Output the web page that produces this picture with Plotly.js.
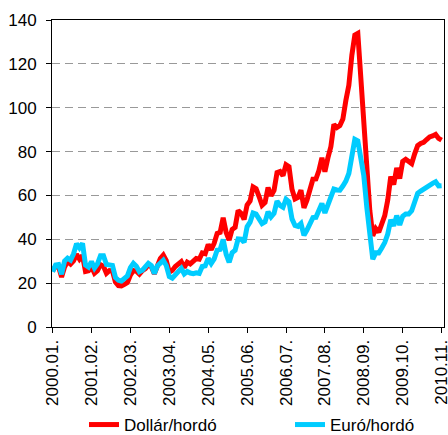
<!DOCTYPE html>
<html>
<head>
<meta charset="utf-8">
<script src="https://cdn.plot.ly/plotly-3.0.1.min.js"></script>
<style>html,body{margin:0;padding:0;background:#fff;}#chart{width:448px;height:435px;}</style>
</head>
<body>
<div id="chart"></div>
<script>
// Monthly oil price, 2000.01 – 2010.11
var years = [2000, 2001, 2002, 2003, 2004, 2005, 2006, 2007, 2008, 2009, 2010];
var lastMonth2010 = 11;

var dollarPerBarrel = [
  25.5, 27.8, 27.5, 22.8, 27.3, 29.8, 28.7, 30.2, 33.1, 30.9, 32.6, 25.3,
  25.6, 27.5, 24.5, 25.7, 28.4, 27.7, 24.5, 25.7, 25.6, 20.5, 18.9, 18.7,
  19.4, 20.3, 23.7, 25.7, 25.4, 24.1, 25.7, 26.6, 28.4, 27.5, 24.3, 28.3,
  31.2, 32.8, 30.3, 25.0, 25.8, 27.6, 28.4, 29.8, 27.1, 29.6, 28.8, 29.8,
  31.2, 30.9, 33.8, 33.4, 37.6, 35.2, 38.2, 42.7, 43.2, 49.8, 43.1, 39.6,
  44.5, 45.5, 53.1, 51.9, 49.0, 55.6, 57.5, 63.9, 63.1, 59.5, 55.5, 56.8,
  63.6, 59.9, 62.3, 70.4, 70.9, 69.0, 74.0, 73.1, 62.8, 58.4, 59.1, 62.4,
  54.3, 57.8, 62.1, 67.4, 67.5, 71.3, 77.2, 70.8, 77.1, 82.3, 92.4, 91.0,
  91.9, 94.8, 103.3, 110.2, 123.9, 133.1, 133.9, 113.9, 99.1, 72.7, 53.2, 41.6,
  44.9, 43.2, 47.0, 50.8, 57.9, 68.6, 64.9, 72.5, 67.7, 75.5, 76.5, 75.8,
  74.5, 79.0, 82.7, 83.7, 84.2, 85.5, 86.7, 87.1, 87.8, 86.0, 85.2
];

var euroPerBarrel = [
  25.2, 28.3, 28.5, 24.1, 30.1, 31.4, 30.5, 33.4, 38.0, 36.1, 38.1, 28.2,
  27.3, 29.8, 26.9, 28.8, 32.5, 32.5, 28.5, 28.5, 28.1, 22.6, 21.3, 21.0,
  22.0, 23.3, 27.1, 29.0, 27.7, 25.2, 25.9, 27.2, 29.0, 28.0, 24.3, 27.8,
  29.4, 30.4, 28.0, 23.0, 22.3, 23.7, 25.0, 26.8, 24.2, 25.3, 24.6, 24.3,
  24.7, 24.4, 27.6, 27.9, 31.3, 29.0, 31.1, 35.1, 35.4, 39.9, 33.2, 29.5,
  33.9, 35.0, 40.2, 40.1, 38.6, 45.7, 47.8, 52.0, 51.5, 49.5, 47.1, 47.9,
  52.6, 50.2, 51.8, 57.4, 55.5, 54.6, 58.3, 57.1, 49.3, 46.3, 45.9, 47.2,
  41.8, 44.2, 46.9, 49.9, 50.0, 53.1, 56.3, 52.0, 55.5, 57.9, 62.9, 62.5,
  62.4, 64.3, 66.5, 70.0, 79.6, 85.6, 84.9, 76.1, 69.0, 54.6, 41.8, 30.9,
  33.9, 33.8, 36.0, 38.5, 42.4, 48.9, 46.1, 50.8, 46.5, 50.5, 51.5, 51.5,
  53.0, 57.0, 61.0, 62.0, 63.0, 64.0, 64.8, 65.5, 66.2, 64.3, 64.4
];

var tickLabels = ["2000.01.", "2001.02.", "2002.03.", "2003.04.", "2004.05.", "2005.06.",
                  "2006.07.", "2007.08.", "2008.09.", "2009.10.", "2010.11."];

var seriesNames = ["Dollár/hordó", "Euró/hordó"];

// month category labels
var months = [];
years.forEach(function (y) {
  var maxM = (y === 2010) ? lastMonth2010 : 12;
  for (var m = 1; m <= maxM; m++) {
    months.push(y + "." + (m < 10 ? "0" + m : m) + ".");
  }
});

var font = "Liberation Sans, Arial, Helvetica, sans-serif";

var traces = [
  {x: months, y: dollarPerBarrel, type: "scatter", mode: "lines", name: seriesNames[0],
   line: {color: "#ff0000", width: 5}, legend: "legend"},
  {x: months, y: euroPerBarrel, type: "scatter", mode: "lines", name: seriesNames[1],
   line: {color: "#00ccff", width: 5}, legend: "legend2"}
];

var legendFont = {family: font, size: 17, color: "#000"};

var layout = {
  width: 448, height: 435,
  margin: {l: 52, r: 4, t: 20, b: 108},
  paper_bgcolor: "#ffffff", plot_bgcolor: "#ffffff",
  font: {family: font, size: 17, color: "#000"},
  showlegend: true,
  legend: {orientation: "h", xref: "container", yref: "container",
           x: 0.1875, y: 0.023, xanchor: "left", yanchor: "middle",
           font: legendFont, bgcolor: "rgba(0,0,0,0)"},
  legend2: {orientation: "h", xref: "container", yref: "container",
           x: 0.6473, y: 0.023, xanchor: "left", yanchor: "middle",
           font: legendFont, bgcolor: "rgba(0,0,0,0)"},
  xaxis: {
    type: "category", range: [-0.2, 130.8], automargin: false,
    tickmode: "array", tickvals: tickLabels, ticktext: tickLabels,
    tickangle: -90, ticks: "outside", ticklen: 5, tickcolor: "#000", tickwidth: 1,
    showline: true, linecolor: "#000", linewidth: 1, mirror: true,
    showgrid: false, zeroline: false,
    tickfont: {family: font, size: 17, color: "#000"}
  },
  yaxis: {
    range: [0, 140], tick0: 0, dtick: 20, automargin: false,
    ticks: "outside", ticklen: 5, tickcolor: "#000", tickwidth: 1,
    showline: true, linecolor: "#000", linewidth: 1, mirror: true,
    showgrid: true, gridcolor: "#999999", griddash: "8px,5px", gridwidth: 1,
    zeroline: false, ticklabelstandoff: 6,
    tickfont: {family: font, size: 17, color: "#000"}
  }
};

Plotly.newPlot("chart", traces, layout, {staticPlot: true, displayModeBar: false});
</script>
</body>
</html>
